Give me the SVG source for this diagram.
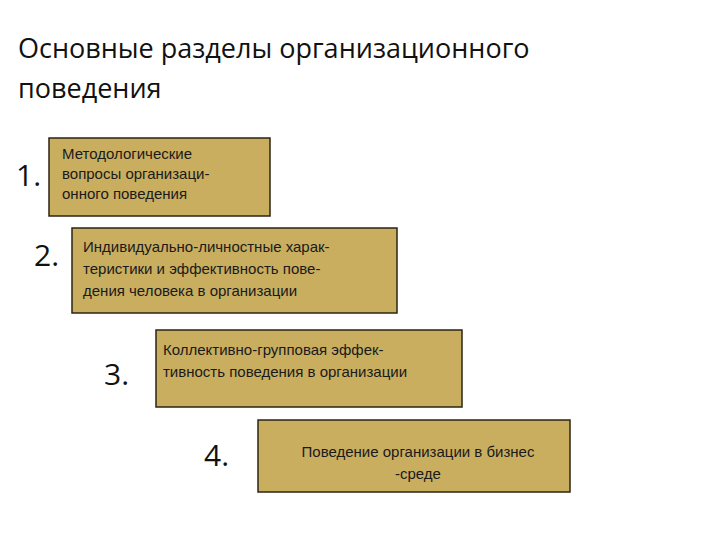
<svg xmlns="http://www.w3.org/2000/svg" width="720" height="540" viewBox="0 0 720 540">
<style>
.b{fill:#C9AE60;stroke:#2b2410;stroke-width:1.5}
.t{font-family:"Liberation Sans",Arial,sans-serif;font-size:15px;fill:#1a1a1a}
.n{font-family:"Open Sans","DejaVu Sans",sans-serif;font-size:30px;fill:#111}
.h{font-family:"Open Sans","DejaVu Sans",sans-serif;font-size:27px;fill:#111}
</style>
<rect width="720" height="540" fill="#fff"/>
<text class="h" x="18" y="58">Основные разделы организационного</text>
<text class="h" x="18" y="98">поведения</text>
<g id="node1"><text class="n" x="16" y="186">1.</text><rect class="b" x="49" y="138" width="221" height="78"/>
<text class="t"><tspan x="62" y="159">Методологические</tspan><tspan x="62" y="179">вопросы организаци-</tspan><tspan x="62" y="199">онного поведения</tspan></text></g>
<g id="node2"><text class="n" x="34" y="266">2.</text><rect class="b" x="72" y="228" width="325" height="85"/>
<text class="t"><tspan x="83" y="252">Индивидуально-личностные харак-</tspan><tspan x="83" y="274">теристики и эффективность пове-</tspan><tspan x="83" y="296">дения человека в организации</tspan></text></g>
<g id="node3"><text class="n" x="104" y="385">3.</text><rect class="b" x="156" y="330" width="306" height="77"/>
<text class="t"><tspan x="163" y="355">Коллективно-групповая эффек-</tspan><tspan x="163" y="377">тивность поведения в организации</tspan></text></g>
<g id="node4"><text class="n" x="204" y="466">4.</text><rect class="b" x="258" y="420" width="312" height="72"/>
<text class="t" text-anchor="middle"><tspan x="418" y="457">Поведение организации в бизнес</tspan><tspan x="418" y="479">-среде</tspan></text></g>
<g id="connectors"/>
</svg>
